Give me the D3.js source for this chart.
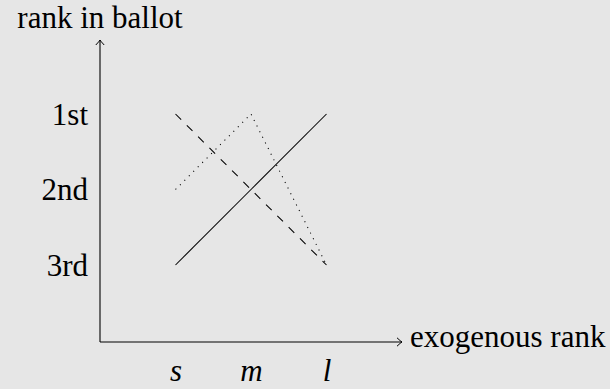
<!DOCTYPE html>
<html>
<head>
<meta charset="utf-8">
<script src="https://cdn.jsdelivr.net/npm/d3@7"></script>
<style>
  body { margin: 0; background: #e6e6e6; }
  svg { display: block; }
  text { font-family: "Liberation Serif", "Times New Roman", serif; fill: #000; }
</style>
</head>
<body>
<div class="chart"></div>
<script>
// data
const sizes = ["s", "m", "l"];
const ranks = ["1st", "2nd", "3rd"];
const solidRanks = ["3rd", "2nd", "1st"];
const dashedRanks = ["1st", "2nd", "3rd"];
const dottedRanks = ["2nd", "1st", "3rd"];

const width = 610;
const height = 389;
const origin = { x: 100, y: 342 };
const axisEnd = { x: 402, y: 40 };
const fontSize = 31;

const svg = d3.select(".chart")
    .append("svg")
    .attr("width", width)
    .attr("height", height)

svg.append("rect")
    .attr("width", width)
    .attr("height", height)
    .attr("fill", "#e6e6e6")

// scales
const xScale = d3.scalePoint()
    .domain(sizes)
    .range([175.5, 326.5])

const yScale = d3.scalePoint()
    .domain(ranks)
    .range([114, 265])

// tikz style "to" arrow head
const defs = svg.append("defs")
defs.append("marker")
    .attr("id", "arrow")
    .attr("viewBox", "-6 -5 8 10")
    .attr("refX", 0)
    .attr("refY", 0)
    .attr("markerWidth", 8)
    .attr("markerHeight", 10)
    .attr("markerUnits", "userSpaceOnUse")
    .attr("orient", "auto")
    .append("path")
    .attr("d", "M-5,-4.2 Q-1.2,-0.6 0,0 Q-1.2,0.6 -5,4.2")
    .attr("fill", "none")
    .attr("stroke", "#000")
    .attr("stroke-width", 1)

// axes
svg.append("line")
    .attr("x1", origin.x).attr("y1", origin.y)
    .attr("x2", axisEnd.x).attr("y2", origin.y)
    .attr("stroke", "#000")
    .attr("stroke-width", 1.1)
    .attr("marker-end", "url(#arrow)")

svg.append("line")
    .attr("x1", origin.x).attr("y1", origin.y)
    .attr("x2", origin.x).attr("y2", axisEnd.y)
    .attr("stroke", "#000")
    .attr("stroke-width", 1.1)
    .attr("marker-end", "url(#arrow)")

// tick labels
const yAxis = svg.append("g")
    .attr("transform", "translate(" + origin.x + ",0)")
    .call(d3.axisLeft(yScale).tickSize(0).tickPadding(12))
yAxis.select(".domain").remove()
yAxis.selectAll("text")
    .attr("font-size", fontSize)
    .attr("font-family", "Liberation Serif")
    .attr("dy", "0.33em")

const xAxis = svg.append("g")
    .attr("transform", "translate(0," + origin.y + ")")
    .call(d3.axisBottom(xScale).tickSize(0).tickPadding(17))
xAxis.select(".domain").remove()
xAxis.selectAll("text")
    .attr("font-size", fontSize)
    .attr("font-family", "Liberation Serif")
    .attr("font-style", "italic")

// axis titles
svg.append("text")
    .attr("x", origin.x)
    .attr("y", 28)
    .attr("text-anchor", "middle")
    .attr("font-size", fontSize)
    .text("rank in ballot")

svg.append("text")
    .attr("x", 410)
    .attr("y", origin.y + 5)
    .attr("font-size", fontSize)
    .text("exogenous rank")

// lines
const line = d3.line()
    .x((d, i) => xScale(sizes[i]))
    .y(d => yScale(d))

const series = [
    { values: solidRanks, dash: null },
    { values: dashedRanks, dash: "8,8" },
    { values: dottedRanks, dash: "1.1,5.2" }
]

svg.selectAll("path.series")
    .data(series)
    .join("path")
    .attr("class", "series")
    .attr("d", d => line(d.values))
    .attr("fill", "none")
    .attr("stroke", "#000")
    .attr("stroke-width", 1.05)
    .attr("stroke-dasharray", d => d.dash)
</script>
</body>
</html>
